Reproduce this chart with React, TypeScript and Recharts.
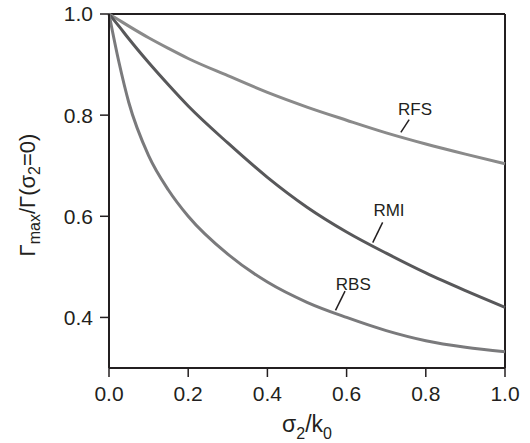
import React from "react"
import { LineChart, Line, XAxis, YAxis, ReferenceLine, ReferenceDot } from "recharts"

// sigma2/k0 sample points
const sigmaRatio = [0, 0.025, 0.05, 0.1, 0.15, 0.2, 0.3, 0.4, 0.5, 0.6, 0.7, 0.8, 0.9, 1.0]
const rfsValues = [1.0, 0.988, 0.976, 0.953, 0.932, 0.912, 0.878, 0.845, 0.816, 0.79, 0.765, 0.743, 0.723, 0.704]
const rmiValues = [1.0, 0.976, 0.951, 0.904, 0.86, 0.818, 0.745, 0.677, 0.618, 0.569, 0.527, 0.488, 0.453, 0.42]
const rbsValues = [1.0, 0.905, 0.825, 0.72, 0.652, 0.6, 0.525, 0.47, 0.43, 0.4, 0.374, 0.354, 0.341, 0.332]

const xTicks = [0, 0.2, 0.4, 0.6, 0.8, 1.0]
const yTicks = [0.4, 0.6, 0.8, 1.0]

// curve labels: text anchor point and leader segment, in data units
const curveLabels = [
  { name: "RFS", x: 0.773, y: 0.8105, from: { x: 0.737, y: 0.766 }, to: { x: 0.758, y: 0.791 } },
  { name: "RMI", x: 0.707, y: 0.612, from: { x: 0.666, y: 0.548 }, to: { x: 0.691, y: 0.588 } },
  { name: "RBS", x: 0.617, y: 0.466, from: { x: 0.572, y: 0.414 }, to: { x: 0.596, y: 0.452 } },
]

const data = sigmaRatio.map((s, i) => ({
  s,
  rfs: rfsValues[i],
  rmi: rmiValues[i],
  rbs: rbsValues[i],
}))

const ink = "#231f20"
const font = "'Liberation Sans', Arial, Helvetica, sans-serif"

const YTitle = ({ viewBox }: any) => {
  const cx = 27
  const cy = viewBox.y + viewBox.height / 2 + 4
  return (
    <text
      x={cx}
      y={cy}
      transform={`rotate(-90, ${cx}, ${cy})`}
      textAnchor="middle"
      dominantBaseline="central"
      fontFamily={font}
      fontSize={22}
      fill={ink}
    >
      <tspan>Γ</tspan>
      <tspan dy={7} fontSize={16}>max</tspan>
      <tspan dy={-7}>/Γ(σ</tspan>
      <tspan dy={7} fontSize={16}>2</tspan>
      <tspan dy={-7}>=0)</tspan>
    </text>
  )
}

const XTitle = ({ viewBox }: any) => {
  const cx = viewBox.x + viewBox.width / 2
  return (
    <text x={cx} y={432} textAnchor="middle" fontFamily={font} fontSize={23} fill={ink}>
      <tspan>σ</tspan>
      <tspan dy={7} fontSize={16}>2</tspan>
      <tspan dy={-7}>/k</tspan>
      <tspan dy={7} fontSize={16}>0</tspan>
    </text>
  )
}

const CurveText = (name: string) => (props: any) => (
  <text
    x={props.cx}
    y={props.cy}
    textAnchor="middle"
    dominantBaseline="central"
    fontFamily={font}
    fontSize={17}
    fill={ink}
  >
    {name}
  </text>
)

export default function App() {
  return (
    <div style={{ position: "absolute", left: 0, top: 0, width: 530, height: 443, background: "#fff" }}>
      <LineChart width={530} height={443} data={data} margin={{ top: 14, right: 25, bottom: 0, left: 0 }}>
        <XAxis
          dataKey="s"
          type="number"
          domain={[0, 1]}
          ticks={xTicks}
          tickFormatter={(v: number) => v.toFixed(1)}
          height={75}
          tickSize={9}
          tickMargin={9}
          axisLine={{ stroke: ink, strokeWidth: 2 }}
          tickLine={{ stroke: ink, strokeWidth: 1.5 }}
          tick={{ fill: ink, fontSize: 21, fontFamily: font }}
          label={<XTitle />}
        />
        <YAxis
          type="number"
          domain={[0.3, 1.0]}
          ticks={yTicks}
          tickFormatter={(v: number) => v.toFixed(1)}
          width={109}
          tickSize={9}
          tickMargin={7}
          axisLine={{ stroke: ink, strokeWidth: 2 }}
          tickLine={{ stroke: ink, strokeWidth: 1.5 }}
          tick={{ fill: ink, fontSize: 21, fontFamily: font }}
          label={<YTitle />}
        />
        <ReferenceLine y={1.0} stroke={ink} strokeWidth={2} />
        <ReferenceLine x={1.0} stroke={ink} strokeWidth={2} />
        <Line dataKey="rfs" type="monotone" stroke="#8a8a8a" strokeWidth={3} dot={false} isAnimationActive={false} />
        <Line dataKey="rmi" type="monotone" stroke="#58585a" strokeWidth={3} dot={false} isAnimationActive={false} />
        <Line dataKey="rbs" type="monotone" stroke="#7a7a7c" strokeWidth={3} dot={false} isAnimationActive={false} />
        {curveLabels.map((c) => (
          <ReferenceLine key={`lead-${c.name}`} segment={[c.from, c.to]} stroke={ink} strokeWidth={1.5} />
        ))}
        {curveLabels.map((c) => (
          <ReferenceDot key={`text-${c.name}`} x={c.x} y={c.y} r={0} shape={CurveText(c.name)} />
        ))}
      </LineChart>
    </div>
  )
}
